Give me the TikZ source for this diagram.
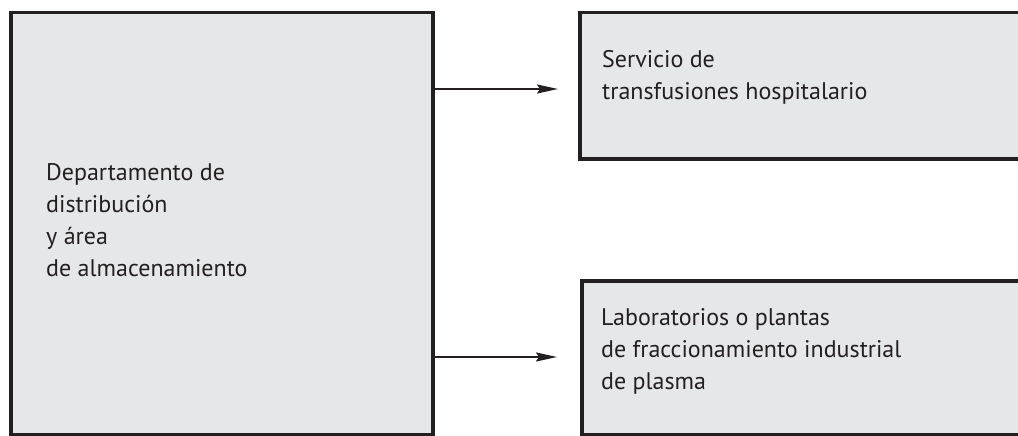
\documentclass[tikz,border=0pt]{standalone}
\usepackage{fontspec}
\setmainfont{PT Sans}
\usetikzlibrary{positioning,arrows.meta}
\definecolor{boxgray}{HTML}{E6E7E8}
\definecolor{inkdark}{HTML}{231F20}

\begin{document}
\begin{tikzpicture}[
    x=1pt, y=-1pt,
    box/.style={rectangle, draw=inkdark, fill=boxgray, line width=3.5pt, anchor=north west, inner sep=0pt},
    boxtext/.style={anchor=north west, inner sep=0pt, align=left, text=inkdark, font=\fontsize{24}{32}\selectfont},
    flow/.style={-{Stealth[length=21pt, width=9pt, inset=3pt]}, line width=2pt, draw=inkdark, fill=inkdark}
]
    \useasboundingbox (0,0) rectangle (1018,436);
    \clip (0,0) rectangle (1018,436);

    \node[box, minimum width=422pt, minimum height=422pt] (dist) at (9,11) {};
    \node[box, minimum width=460pt, minimum height=146pt] (hosp) at (578,11) {};
    \node[box, minimum width=460pt, minimum height=154pt] (frac) at (580,279) {};

    \node[boxtext, below right=152pt and 37pt of dist.north west] (distlabel)
        {Departamento de\\distribución\\y área\\de almacenamiento};
    \node[boxtext, below right=39pt and 24pt of hosp.north west] (hosplabel)
        {Servicio de\\transfusiones hospitalario};
    \node[boxtext, below right=29pt and 21pt of frac.north west] (fraclabel)
        {Laboratorios o plantas\\de fraccionamiento industrial\\de plasma};

    \coordinate (hosptip) at (558,89);
    \coordinate (fractip) at (557,357);
    \draw[flow] (dist.east |- hosptip) -- (hosptip);
    \draw[flow] (dist.east |- fractip) -- (fractip);
\end{tikzpicture}
\end{document}
